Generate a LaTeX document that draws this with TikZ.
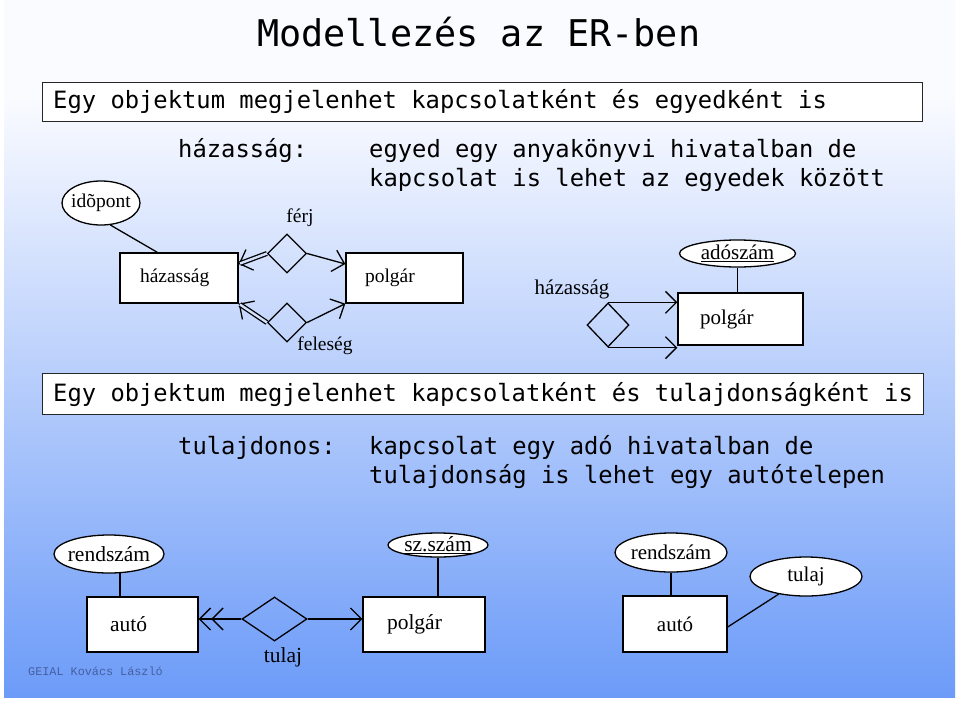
\documentclass[tikz,border=0pt]{standalone}
\usepackage{fontspec}
\setmainfont{Liberation Serif}
\newfontfamily\monof{DejaVu Sans Mono}
\newfontfamily\courf{Liberation Mono}
\usetikzlibrary{shapes.geometric,arrows.meta,calc}
\definecolor{bgB}{RGB}{108,155,248}
\definecolor{bgT}{RGB}{250,251,255}
\definecolor{dblin}{RGB}{212,225,252}
\definecolor{sig}{RGB}{70,95,160}
\pgfdeclareverticalshading{bgsh}{100bp}{color(0bp)=(bgB); color(25bp)=(bgB); color(68bp)=(bgT); color(100bp)=(bgT)}
\tikzset{
  mono/.style={font=\monof\fontsize{23.8}{28}\selectfont, inner sep=0pt, anchor=base west},
  hdrbox/.style={draw=black!85, fill=white, line width=0.8pt, inner sep=0pt, anchor=north west},
  ent/.style={draw, fill=white, line width=1.3pt, inner ysep=0pt, align=left},
  attr/.style={ellipse, draw, fill=white, line width=1.3pt, inner sep=0pt},
  rel/.style={diamond, draw, line width=1.3pt, inner sep=0pt},
  arr/.style={line width=1.3pt, -{Straight Barb[length=11pt,width=22pt]}},
  dbl/.style={line width=1.3pt, double=dblin, double distance=2.4pt, shorten >=1.5pt},
  ln/.style={line width=1.3pt},
  lbl/.style={inner sep=0pt}
}
\begin{document}
\begin{tikzpicture}[x=1pt,y=-1pt]
\useasboundingbox (0,0) rectangle (960,701);
\fill[white] (0,0) rectangle (960,701);
\shade[shading=bgsh] (4,0) rectangle (955,697);

% title and header texts
\node[font=\monof\fontsize{36.8}{40}\selectfont, inner sep=0pt, anchor=base west] (title) at (257,46) {Modellezés az ER-ben};
\node[hdrbox, minimum width=880pt, minimum height=39pt] (b1) at (42,82) {};
\node[mono] (b1T) at (53,108) {Egy objektum megjelenhet kapcsolatként és egyedként is};
\node[mono] (hzT) at (178,157) {házasság:};
\node[mono] (eg1) at (369,157) {egyed egy anyakönyvi hivatalban de};
\node[mono] (eg2) at (369,186) {kapcsolat is lehet az egyedek között};

\node[hdrbox, minimum width=881pt, minimum height=41pt] (b2) at (42,373) {};
\node[mono] (b2T) at (53,401) {Egy objektum megjelenhet kapcsolatként és tulajdonságként is};
\node[mono] (tuT) at (178,454) {tulajdonos:};
\node[mono] (kp1) at (369,454) {kapcsolat egy adó hivatalban de};
\node[mono] (kp2) at (369,483) {tulajdonság is lehet egy autótelepen};

% diagram 1
\begin{scope}[font=\fontsize{19.5}{22}\selectfont]
\node[attr, minimum width=78pt, minimum height=44pt, label={center:idõpont}] (id) at (101,203) {};
\node[ent, text width=78pt, inner xsep=20pt, minimum height=50pt] (hz1) at (179,278) {házasság};
\node[ent, text width=79pt, inner xsep=19pt, minimum height=50pt] (pg1) at (404.5,278) {polgár};
\node[rel, minimum width=39pt, minimum height=39pt] (fj) at (287,253.5) {};
\node[rel, minimum width=39pt, minimum height=39pt] (fl) at (287,322.5) {};
\node[lbl] (fjL) at (300,218) {férj};
\node[lbl] (flL) at (325,346) {feleség};
\draw[ln] (id.-67) -- ($(hz1.north west)+(38,0)$);
\draw[arr] (fj.west) -- ($(hz1.east)+(0,-14)$);
\draw[dbl] (fj.west) -- ($(hz1.east)+(0,-14)$);
\draw[arr] (fj.east) -- ($(pg1.west)+(0,-14)$);
\draw[arr] (fl.west) -- (hz1.south east);
\draw[dbl] (fl.west) -- (hz1.south east);
\draw[arr] (fl.east) -- (pg1.south west);
\end{scope}

% diagram 2
\begin{scope}[font=\fontsize{21}{24}\selectfont]
\node[rel, minimum width=42pt, minimum height=44pt] (hz2) at (608,325) {};
\node[lbl] (hz2L) at (572,289) {házasság};
\node[ent, text width=81pt, inner xsep=22pt, minimum height=52pt] (pg2) at (740.5,319) {polgár};
\node[attr, minimum width=116pt, minimum height=27pt, label={center:\underline{adószám}}] (ad) at (737.5,253.5) {};
\draw[ln] (ad.south) -- (ad.south |- pg2.north);
\draw[arr] (hz2.north) -- (hz2.north -| pg2.west);
\draw[arr] (hz2.south) -- (hz2.south -| pg2.west);
\end{scope}

% diagram 3
\begin{scope}[font=\fontsize{21.5}{24}\selectfont]
\node[attr, minimum width=110pt, minimum height=38pt, label={center:rendszám}] (rs1) at (109,554) {};
\node[ent, text width=65pt, inner xsep=23pt, minimum height=55pt] (au1) at (142.5,624.5) {autó};
\node[rel, minimum width=65pt, minimum height=44pt] (tu) at (274.5,619) {};
\node[lbl] (tuL) at (283,657) {tulaj};
\node[ent, text width=74pt, inner xsep=24pt, minimum height=55pt] (pg3) at (424,624.5) {polgár};
\node[attr, minimum width=100pt, minimum height=24pt, label={center:\underline{sz.szám}}] (sz) at (438,545) {};
\draw[ln] (rs1.-60) -- (rs1.-60 |- au1.north);
\draw[ln] (sz.south) -- (sz.south |- pg3.north);
\draw[arr] (tu.east) -- (tu.east -| pg3.west);
\draw[ln, -{Straight Barb[length=11pt,width=22pt] Straight Barb[length=11pt,width=22pt]}] (tu.west) -- (tu.west -| au1.east);
\end{scope}

% diagram 4
\begin{scope}[font=\fontsize{21}{24}\selectfont]
\node[attr, minimum width=112pt, minimum height=39pt, label={center:rendszám}] (rs2) at (671,552.5) {};
\node[ent, text width=104pt, inner xsep=0pt, align=center, minimum height=56pt] (au2) at (675,624) {autó};
\node[attr, minimum width=112pt, minimum height=39pt, label={center:tulaj}] (tl) at (806,576.5) {};
\draw[ln] (rs2.south) -- (rs2.south |- au2.north);
\draw[ln] ($(au2.east)+(0,3)$) -- (tl);
\end{scope}

\node[font=\courf\fontsize{11.8}{13}\selectfont, text=sig, anchor=base west, inner sep=0pt] (sig) at (28,675) {GEIAL Kovács László};
\end{tikzpicture}
\end{document}
